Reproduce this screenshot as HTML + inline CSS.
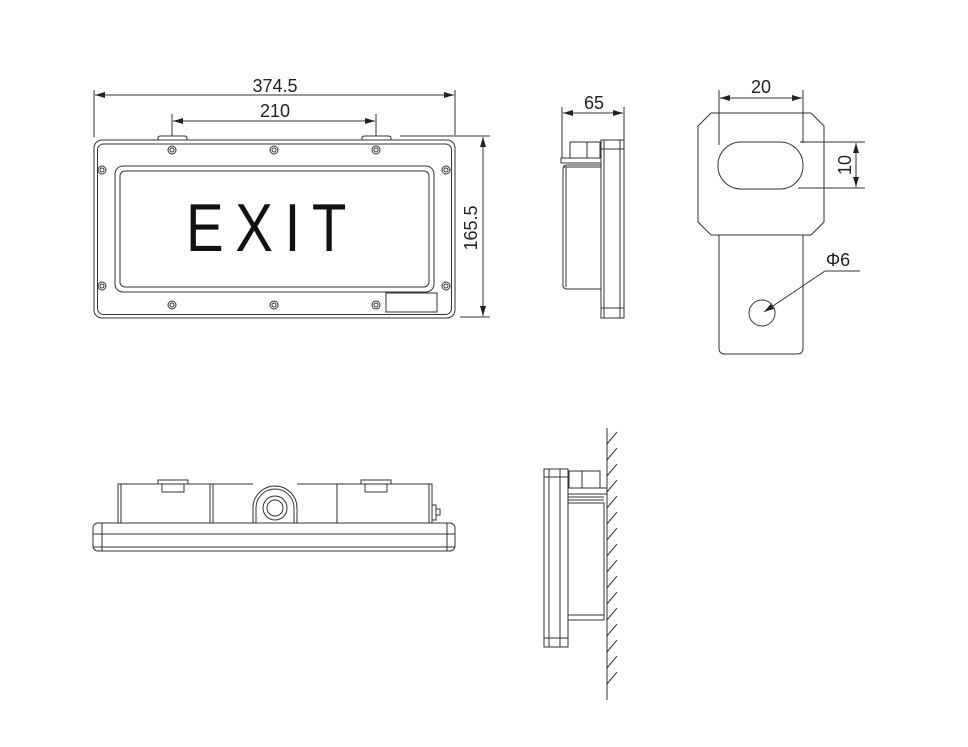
<!DOCTYPE html>
<html><head><meta charset="utf-8"><style>
html,body{margin:0;padding:0;background:#fff;}
svg{display:block;}
text{font-family:"Liberation Sans",sans-serif;fill:#222;}
</style></head><body>
<svg width="968" height="747" viewBox="0 0 968 747" xmlns="http://www.w3.org/2000/svg">
<defs>
<marker id="a" markerWidth="10" markerHeight="6" refX="10" refY="3" orient="auto-start-reverse" markerUnits="userSpaceOnUse">
<path d="M0,0 L10,3 L0,6 z" fill="#222"/></marker>
</defs>
<g fill="none" stroke="#333" stroke-width="1">
<!-- FRONT VIEW -->
<rect x="94" y="140" width="361" height="178" rx="8"/>
<rect x="97.5" y="144" width="354" height="170.5" rx="6"/>
<rect x="115" y="166" width="319" height="126" rx="8"/>
<rect x="120" y="171" width="309" height="116" rx="5"/>
<rect x="386" y="293" width="51" height="19"/>
<path d="M158,140 v-2 q0,-2 3,-2 h23 q3,0 3,2 v2"/>
<path d="M362,140 v-2 q0,-2 3,-2 h23 q3,0 3,2 v2"/>
<g>
<circle cx="172" cy="150" r="4"/><circle cx="172" cy="150" r="2"/>
<circle cx="274" cy="150" r="4"/><circle cx="274" cy="150" r="2"/>
<circle cx="376" cy="150" r="4"/><circle cx="376" cy="150" r="2"/>
<circle cx="172" cy="305" r="4"/><circle cx="172" cy="305" r="2"/>
<circle cx="274" cy="305" r="4"/><circle cx="274" cy="305" r="2"/>
<circle cx="376" cy="305" r="4"/><circle cx="376" cy="305" r="2"/>
<circle cx="102" cy="170" r="4"/><circle cx="102" cy="170" r="2"/>
<circle cx="446" cy="170" r="4"/><circle cx="446" cy="170" r="2"/>
<circle cx="102" cy="286" r="4"/><circle cx="102" cy="286" r="2"/>
<circle cx="446" cy="286" r="4"/><circle cx="446" cy="286" r="2"/>
</g>
<!-- dims front -->
<line x1="94" y1="90" x2="94" y2="137"/>
<line x1="455" y1="90" x2="455" y2="135"/>
<line x1="95" y1="95" x2="454" y2="95" marker-start="url(#a)" marker-end="url(#a)"/>
<line x1="172" y1="114" x2="172" y2="136"/>
<line x1="376" y1="114" x2="376" y2="136"/>
<line x1="173" y1="121" x2="375" y2="121" marker-start="url(#a)" marker-end="url(#a)"/>
<line x1="400" y1="136" x2="490" y2="136"/>
<line x1="460" y1="317" x2="490" y2="317"/>
<line x1="483" y1="137" x2="483" y2="316" marker-start="url(#a)" marker-end="url(#a)"/>

<!-- SIDE VIEW top -->
<rect x="601" y="140" width="23" height="178"/>
<line x1="604" y1="140" x2="604" y2="318"/>
<line x1="620" y1="140" x2="620" y2="318"/>
<line x1="601" y1="149" x2="624" y2="149"/>
<line x1="601" y1="308" x2="624" y2="308"/>
<rect x="570" y="142" width="30" height="16"/>
<line x1="587" y1="142" x2="587" y2="158"/>
<rect x="561" y="158" width="40" height="5"/>
<path d="M601,165 H567 q-4,0 -4,4 V285 q0,4 4,4 H601"/>
<line x1="566" y1="167" x2="566" y2="287"/>
<line x1="563" y1="167" x2="601" y2="167"/>
<line x1="562" y1="107" x2="562" y2="158"/>
<line x1="624" y1="107" x2="624" y2="140"/>
<line x1="563" y1="113" x2="623" y2="113" marker-start="url(#a)" marker-end="url(#a)"/>

<!-- BRACKET -->
<path d="M711,113 H811 L824,126 V222 L811,235 H711 L698,222 V126 Z"/>
<rect x="718" y="142" width="85" height="47" rx="23"/>
<path d="M719,235 V348 q0,6 6,6 H797 q6,0 6,-6 V235"/>
<circle cx="762" cy="313" r="13"/>
<line x1="719" y1="90" x2="719" y2="145"/>
<line x1="803" y1="90" x2="803" y2="143"/>
<line x1="720" y1="98" x2="802" y2="98" marker-start="url(#a)" marker-end="url(#a)"/>
<line x1="800" y1="142" x2="865" y2="142"/>
<line x1="798" y1="188" x2="865" y2="188"/>
<line x1="856" y1="143" x2="856" y2="187" marker-start="url(#a)" marker-end="url(#a)"/>
<line x1="825" y1="271" x2="860" y2="271"/>
<line x1="825" y1="271" x2="764" y2="312" marker-end="url(#a)"/>

<!-- BOTTOM VIEW -->
<rect x="93" y="523" width="362" height="28" rx="5"/>
<line x1="102" y1="523" x2="102" y2="551"/>
<line x1="447" y1="523" x2="447" y2="551"/>
<line x1="93" y1="534" x2="455" y2="534"/>
<line x1="93" y1="547" x2="455" y2="547"/>
<path d="M118,523 V484 H253 M297,484 H432 V523"/>
<line x1="121" y1="484" x2="121" y2="523"/>
<line x1="210" y1="484" x2="210" y2="523"/>
<line x1="213" y1="484" x2="213" y2="523"/>
<line x1="337" y1="484" x2="337" y2="523"/>
<line x1="429" y1="484" x2="429" y2="523"/>
<path d="M253,523 V508 a22,22 0 0 1 44,0 V523"/>
<path d="M256,523 V508 a19,19 0 0 1 38,0 V523"/>
<circle cx="275" cy="508" r="12"/><circle cx="275" cy="508" r="8"/>
<rect x="158" y="480" width="30" height="4"/>
<rect x="162" y="484" width="22" height="8"/>
<rect x="361" y="480" width="30" height="4"/>
<rect x="365" y="484" width="22" height="8"/>
<rect x="432" y="505" width="4" height="15"/>
<rect x="436" y="509" width="4" height="6"/>

<!-- WALL VIEW -->
<line x1="607" y1="428" x2="607" y2="700"/>
<g>
<path d="M607,444 l10,-12 M607,460 l10,-12 M607,476 l10,-12 M607,492 l10,-12 M607,508 l10,-12 M607,524 l10,-12 M607,540 l10,-12 M607,556 l10,-12 M607,572 l10,-12 M607,588 l10,-12 M607,604 l10,-12 M607,620 l10,-12 M607,636 l10,-12 M607,652 l10,-12 M607,668 l10,-12 M607,684 l10,-12"/>
</g>
<rect x="544" y="469" width="24" height="178"/>
<line x1="549" y1="469" x2="549" y2="647"/>
<line x1="560" y1="469" x2="560" y2="647"/>
<line x1="544" y1="477" x2="568" y2="477"/>
<line x1="544" y1="638" x2="568" y2="638"/>
<rect x="569" y="471" width="31" height="17"/>
<line x1="582" y1="471" x2="582" y2="488"/>
<rect x="568" y="488" width="39" height="6"/>
<line x1="568" y1="497" x2="604" y2="497"/>
<line x1="568" y1="500" x2="604" y2="500"/>
<path d="M568,503 H604 V620 H568"/>
<line x1="568" y1="615" x2="604" y2="615"/>
</g>
<text x="275" y="92" font-size="18" text-anchor="middle">374.5</text>
<text x="275" y="117" font-size="18" text-anchor="middle">210</text>
<text transform="translate(477,228) rotate(-90)" font-size="18" text-anchor="middle">165.5</text>
<text x="594" y="109" font-size="18" text-anchor="middle">65</text>
<text x="761" y="93" font-size="18" text-anchor="middle">20</text>
<text transform="translate(851,165) rotate(-90)" font-size="18" text-anchor="middle">10</text>
<text x="838" y="266" font-size="18" text-anchor="middle">Φ6</text>
<text x="272" y="251" font-size="68" text-anchor="middle" letter-spacing="14" style="fill:#111" textLength="172" lengthAdjust="spacingAndGlyphs">EXIT</text>
</svg>
</body></html>
